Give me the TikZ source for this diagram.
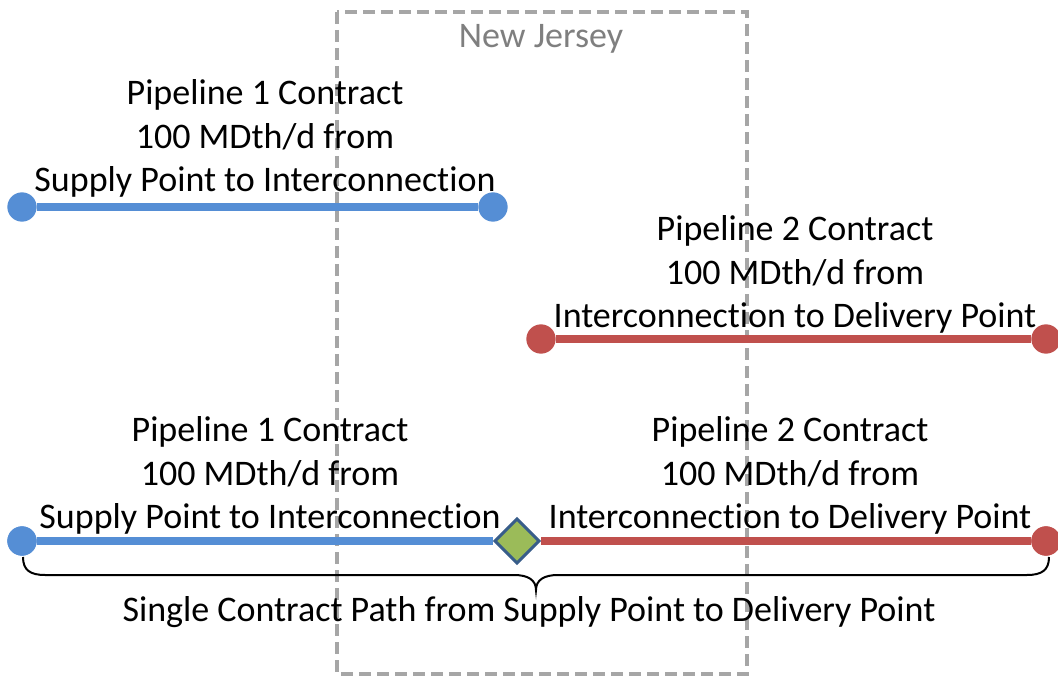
\documentclass[tikz,border=0pt]{standalone}
\usepackage{fontspec}
\setmainfont[RawFeature={-liga;-clig;-calt;-dlig}]{Carlito}
\usetikzlibrary{shapes.geometric}
\definecolor{pblue}{RGB}{85,142,213}
\definecolor{pred}{RGB}{192,80,77}
\definecolor{dgreen}{RGB}{155,187,89}
\definecolor{dborder}{RGB}{56,93,138}
\definecolor{boxgray}{RGB}{166,166,166}
\definecolor{txtgray}{RGB}{127,127,127}
\tikzset{
  lbl/.style={align=center, font=\fontsize{27}{32.6}\selectfont, inner sep=0pt},
  dotb/.style={circle, fill=pblue, minimum size=22pt, inner sep=0pt},
  dotr/.style={circle, fill=pred, minimum size=22pt, inner sep=0pt},
  bline/.style={draw=pblue, line width=6.2pt},
  rline/.style={draw=pred, line width=6.2pt},
  njbox/.style={draw=boxgray, line width=2.6pt, dash pattern=on 9pt off 4.5pt},
}
\begin{document}
\begin{tikzpicture}[x=0.75pt,y=-0.75pt]
\useasboundingbox (0,0) rectangle (1058,677);
% New Jersey box
\draw[njbox] (337,12) rectangle (747,674);
\node[lbl, text=txtgray] (nj) at (541,39) {New Jersey};
% top pipeline 1
\node[lbl] (t1) at (265,138.5) {Pipeline 1 Contract\\100 MDth/d from\\Supply Point to Interconnection};
\node[dotb] (a1) at (22,207) {};
\node[dotb] (a2) at (493,207) {};
\draw[bline] (a1) -- (a2);
% pipeline 2
\node[lbl] (t2) at (795,274.5) {Pipeline 2 Contract\\100 MDth/d from\\Interconnection to Delivery Point};
\node[dotr] (b1) at (541,339) {};
\node[dotr] (b2) at (1046,339) {};
\draw[rline] (b1) -- (b2);
% combined
\node[lbl] (t3) at (270,475.5) {Pipeline 1 Contract\\100 MDth/d from\\Supply Point to Interconnection};
\node[lbl] (t4) at (790,475.5) {Pipeline 2 Contract\\100 MDth/d from\\Interconnection to Delivery Point};
\node[dotb] (c1) at (22,541) {};
\node[dotr] (c2) at (1046,541) {};
\node[diamond, draw=dborder, fill=dgreen, line width=2.25pt, minimum width=34pt, minimum height=34pt, inner sep=0pt] (ic) at (517,541) {};
\draw[bline] (c1) -- (ic.west);
\draw[rline] (ic.east) -- (c2);
\node[dotb] at (c1) {};
\node[dotr] at (c2) {};
% brace
\coordinate (bl) at (23,557);
\coordinate (br) at (1049,557);
\coordinate (bt) at (536,590);
\draw[line width=1.5pt] (bl) .. controls (23,570) and (30,575) .. (45,575) -- (514,575) .. controls (528,575) and (536,580) .. (bt)
  .. controls (536,580) and (544,575) .. (558,575) -- (1027,575) .. controls (1042,575) and (1049,570) .. (br);
\node[lbl] (sc) at (529,612) {Single Contract Path from Supply Point to Delivery Point};
\end{tikzpicture}
\end{document}
